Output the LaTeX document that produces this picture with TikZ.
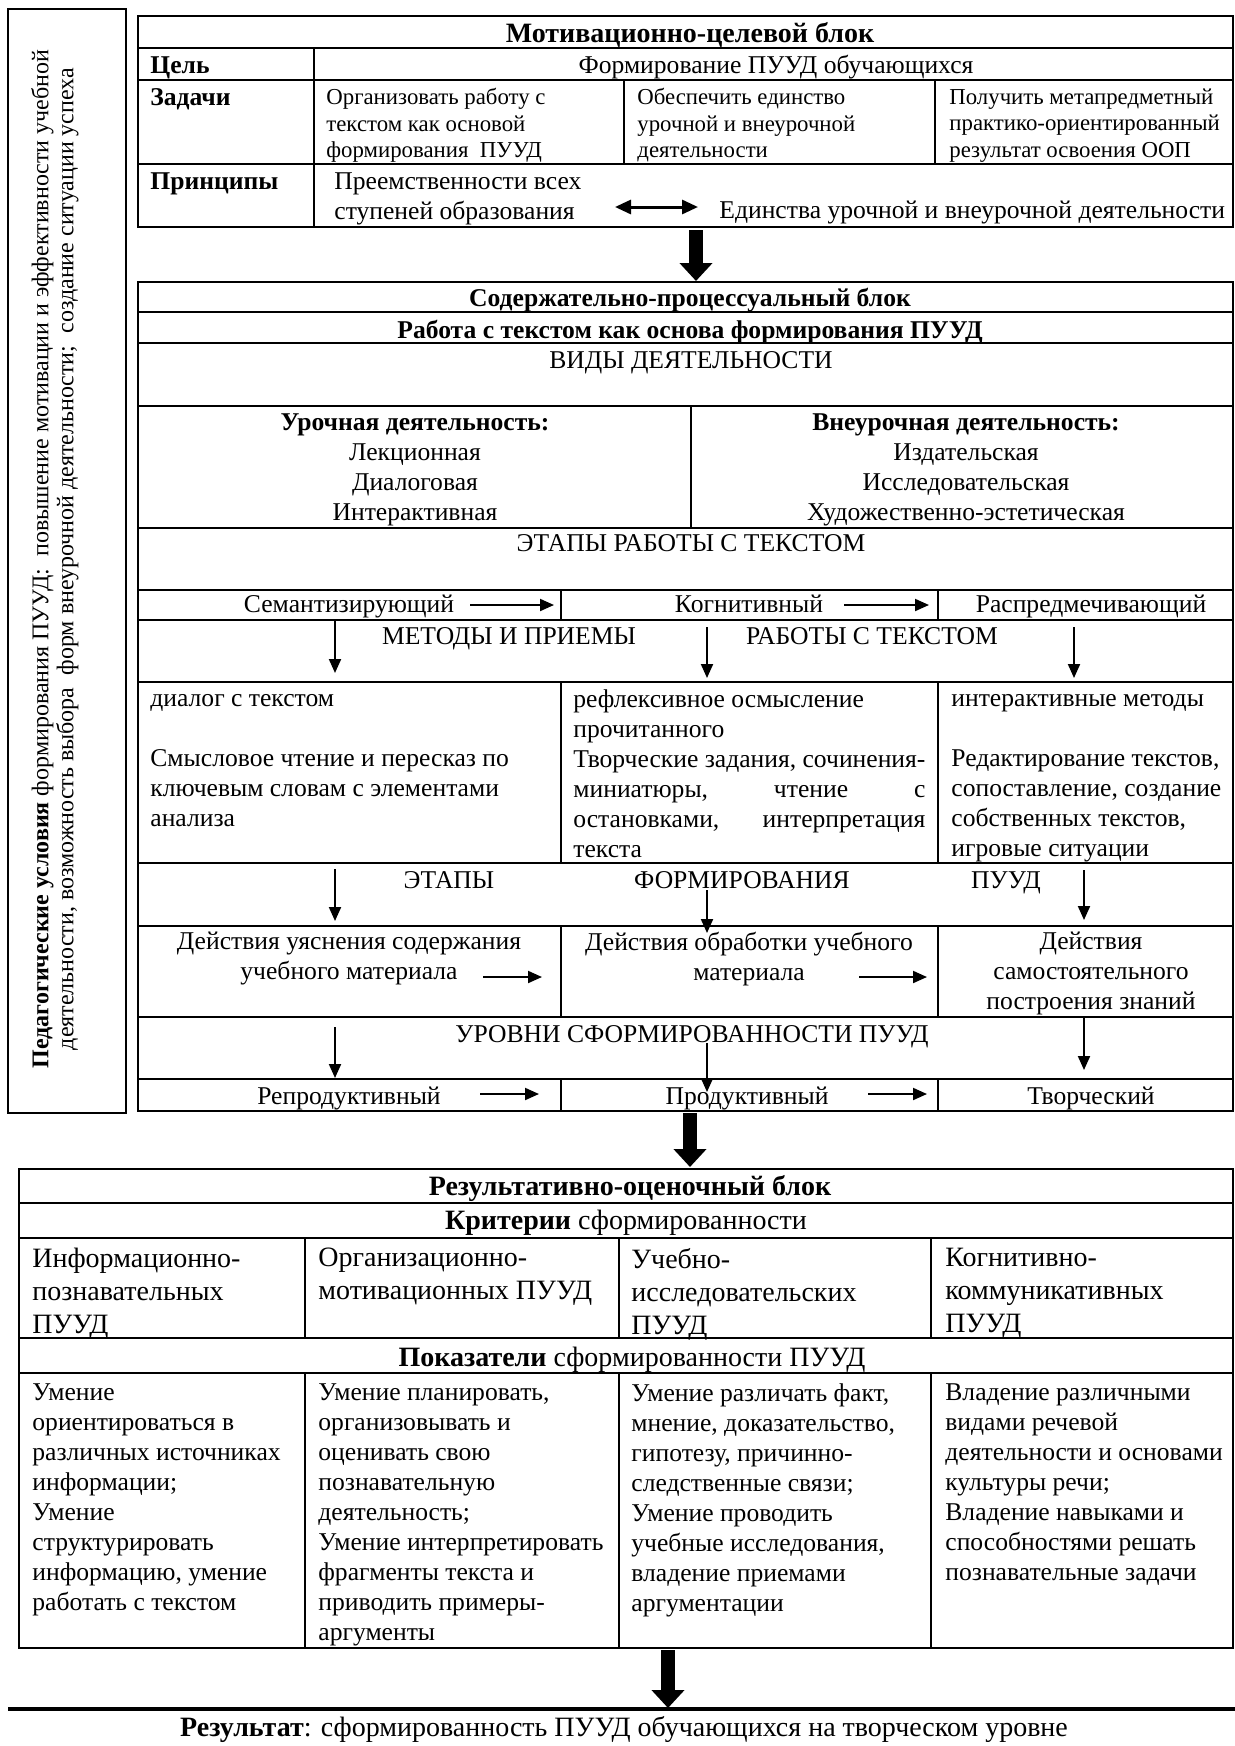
\documentclass[tikz,border=0pt]{standalone}
\usepackage{fontspec}
\setmainfont{Liberation Serif}
\usepackage{tikz}
\usetikzlibrary{arrows.meta}

\begin{document}
\begin{tikzpicture}[x=0.5pt, y=-0.5pt,
	every node/.style={inner sep=0pt, font=\fontsize{12.8}{15}\selectfont,
		execute at begin node=\strut, execute at end node=\strut},
	head/.style={font=\fontsize{12.8}{15}\selectfont\bfseries},
	title/.style={font=\fontsize{14}{16}\selectfont\bfseries},
	large/.style={font=\fontsize{14}{16}\selectfont},
	frame/.style={line width=1.2pt},
	rule/.style={line width=0.9pt},
	cell/.style={anchor=north west, align=left},
	task/.style={anchor=north west, align=left, font=\fontsize{11.4}{13.3}\selectfont},
	crit/.style={anchor=north west, align=left, font=\fontsize{14}{16.5}\selectfont},
	fat/.style={line width=7pt, -{Triangle[width=16pt, length=9pt]}},
	thin/.style={line width=1pt, -{Triangle[width=6pt, length=7pt]}}]
\useasboundingbox (0,0) rectangle (1235,1746);

\draw[frame] (8,9) rectangle (126,1113);
\node[rotate=90, align=center, font=\fontsize{12}{12.5}\selectfont] (cond) at (56,559) {\textbf{Педагогические условия} формирования ПУУД:\ \ повышение мотивации и эффективности учебной\\деятельности, возможность выбора\ \ форм внеурочной деятельности;\ \ создание ситуации успеха};

\draw[frame] (138,16) rectangle (1233,227);
\draw[rule] (138,48) -- (1233,48);
\draw[rule] (138,80) -- (1233,80);
\draw[rule] (138,164) -- (1233,164);
\draw[rule] (314,48) -- (314,227);
\draw[rule] (624,80) -- (624,164);
\draw[rule] (935,80) -- (935,164);

\node[title] (mot) at (690,36) {Мотивационно-целевой блок};
\node[head, anchor=west] (goal) at (150,67) {Цель};
\node (goaltxt) at (776,67) {Формирование ПУУД обучающихся};
\node[head, anchor=west] (tasks) at (150,99) {Задачи};
\node[task] (task1) at (326,88) {Организовать работу с\\текстом как основой\\формирования\ \ ПУУД};
\node[task] (task2) at (637,88) {Обеспечить единство\\урочной и внеурочной\\деятельности};
\node[task] (task3) at (949,88) {Получить метапредметный\\практико-ориентированный\\результат освоения ООП};
\node[head, anchor=west] (prin) at (150,183) {Принципы};
\node[cell] (prin1) at (334,172) {Преемственности всех\\ступеней образования};
\node[anchor=west] (prin2) at (719,212) {Единства урочной и внеурочной деятельности};
\coordinate (pa) at (615,207);
\coordinate (pb) at (698,207);
\draw[line width=1.5pt, {Triangle[width=7pt, length=8pt]}-{Triangle[width=7pt, length=8pt]}] (pa) -- (pb);

\coordinate (f1a) at (696,230);
\coordinate (f1b) at (696,281);
\draw[fat] (f1a) -- (f1b);

\draw[frame] (138,282) rectangle (1233,1111);
\draw[rule] (138,312) -- (1233,312);
\draw[rule] (138,343) -- (1233,343);
\draw[rule] (138,406) -- (1233,406);
\draw[rule] (138,528) -- (1233,528);
\draw[rule] (138,590) -- (1233,590);
\draw[rule] (138,620) -- (1233,620);
\draw[rule] (138,682) -- (1233,682);
\draw[rule] (138,863) -- (1233,863);
\draw[rule] (138,926) -- (1233,926);
\draw[rule] (138,1017) -- (1233,1017);
\draw[rule] (138,1079) -- (1233,1079);
\draw[rule] (691,406) -- (691,528);
\draw[rule] (561,590) -- (561,620);
\draw[rule] (938,590) -- (938,620);
\draw[rule] (561,682) -- (561,863);
\draw[rule] (938,682) -- (938,863);
\draw[rule] (561,926) -- (561,1017);
\draw[rule] (938,926) -- (938,1017);
\draw[rule] (561,1079) -- (561,1111);
\draw[rule] (938,1079) -- (938,1111);

\node[head] (cont) at (690,300) {Содержательно-процессуальный блок};
\node[head] (work) at (690,332) {Работа с текстом как основа формирования ПУУД};
\node (kinds) at (691,362) {ВИДЫ ДЕЯТЕЛЬНОСТИ};
\node[align=center] (lesson) at (415,471.5) {\textbf{Урочная деятельность:}\\Лекционная\\Диалоговая\\Интерактивная};
\node[align=center] (extra) at (966,471.5) {\textbf{Внеурочная деятельность:}\\Издательская\\Исследовательская\\Художественно-эстетическая};
\node (stages) at (691,545) {ЭТАПЫ РАБОТЫ С ТЕКСТОМ};
\node (sem) at (349,606) {Семантизирующий};
\node (cog) at (749,606) {Когнитивный};
\node (dis) at (1091,606) {Распредмечивающий};
\node (meth1) at (509,638) {МЕТОДЫ И ПРИЕМЫ};
\node (meth2) at (872,638) {РАБОТЫ С ТЕКСТОМ};
\node[cell] (dial) at (150,694) {диалог с текстом\\[15pt]Смысловое чтение и пересказ по\\ключевым словам с элементами\\анализа};
\node[cell] (refl) at (573,689) {рефлексивное осмысление\\прочитанного\\Творческие задания, сочинения-\\\hbox to 176pt{миниатюры,\hfill чтение\hfill с}\\\hbox to 176pt{остановками,\hfill интерпретация}\\текста};
\node[cell] (inter) at (951,694) {интерактивные методы\\[15pt]Редактирование текстов,\\сопоставление, создание\\собственных текстов,\\игровые ситуации};
\node (st1) at (449,882) {ЭТАПЫ};
\node (st2) at (742,882) {ФОРМИРОВАНИЯ};
\node (st3) at (1006,882) {ПУУД};
\node[align=center] (act1) at (349,960.5) {Действия уяснения содержания\\учебного материала};
\node[align=center] (act2) at (749,960.5) {Действия обработки учебного\\материала};
\node[align=center] (act3) at (1091,975.5) {Действия\\самостоятельного\\построения знаний};
\node (lev) at (692,1036) {УРОВНИ СФОРМИРОВАННОСТИ ПУУД};
\node (rep) at (349,1098) {Репродуктивный};
\node (prod) at (747,1098) {Продуктивный};
\node (cre) at (1091,1098) {Творческий};

\coordinate (h1a) at (470,605);
\coordinate (h1b) at (554,605);
\coordinate (h2a) at (844,605);
\coordinate (h2b) at (929,605);
\coordinate (d1a) at (335,621);
\coordinate (d1b) at (335,673);
\coordinate (d2a) at (707,627);
\coordinate (d2b) at (707,678);
\coordinate (d3a) at (1074,627);
\coordinate (d3b) at (1074,678);
\coordinate (e1a) at (335,869);
\coordinate (e1b) at (335,921);
\coordinate (e2a) at (707,890);
\coordinate (e2b) at (707,933);
\coordinate (e3a) at (1084,870);
\coordinate (e3b) at (1084,920);
\coordinate (h3a) at (483,977);
\coordinate (h3b) at (542,977);
\coordinate (h4a) at (859,977);
\coordinate (h4b) at (927,977);
\coordinate (u1a) at (335,1027);
\coordinate (u1b) at (335,1078);
\coordinate (u2a) at (707,1043);
\coordinate (u2b) at (707,1092);
\coordinate (u3a) at (1084,1018);
\coordinate (u3b) at (1084,1070);
\coordinate (h5a) at (480,1094);
\coordinate (h5b) at (539,1094);
\coordinate (h6a) at (868,1094);
\coordinate (h6b) at (927,1094);
\draw[thin] (h1a) -- (h1b);
\draw[thin] (h2a) -- (h2b);
\draw[thin] (d1a) -- (d1b);
\draw[thin] (d2a) -- (d2b);
\draw[thin] (d3a) -- (d3b);
\draw[thin] (e1a) -- (e1b);
\draw[thin] (e2a) -- (e2b);
\draw[thin] (e3a) -- (e3b);
\draw[thin] (h3a) -- (h3b);
\draw[thin] (h4a) -- (h4b);
\draw[thin] (u1a) -- (u1b);
\draw[thin] (u2a) -- (u2b);
\draw[thin] (u3a) -- (u3b);
\draw[thin] (h5a) -- (h5b);
\draw[thin] (h6a) -- (h6b);

\coordinate (f2a) at (690,1113);
\coordinate (f2b) at (690,1167);
\draw[fat] (f2a) -- (f2b);

\draw[frame] (19,1169) rectangle (1233,1648);
\draw[rule] (19,1203) -- (1233,1203);
\draw[rule] (19,1238) -- (1233,1238);
\draw[rule] (19,1338) -- (1233,1338);
\draw[rule] (19,1373) -- (1233,1373);
\draw[rule] (305,1238) -- (305,1338);
\draw[rule] (619,1238) -- (619,1338);
\draw[rule] (931,1238) -- (931,1338);
\draw[rule] (305,1373) -- (305,1648);
\draw[rule] (619,1373) -- (619,1648);
\draw[rule] (931,1373) -- (931,1648);

\node[title] (res) at (630,1189) {Результативно-оценочный блок};
\node[large] (critrow) at (626,1223) {\textbf{Критерии} сформированности};
\node[crit] (c1) at (32,1248) {Информационно-\\познавательных\\ПУУД};
\node[crit] (c2) at (318,1248) {Организационно-\\мотивационных ПУУД};
\node[crit] (c3) at (631,1248) {Учебно-\\исследовательских\\ПУУД};
\node[crit] (c4) at (945,1248) {Когнитивно-\\коммуникативных\\ПУУД};
\node[large] (ind) at (632,1360) {\textbf{Показатели} сформированности ПУУД};
\node[cell] (i1) at (32,1383) {Умение\\ориентироваться в\\различных источниках\\информации;\\Умение\\структурировать\\информацию, умение\\работать с текстом};
\node[cell] (i2) at (318,1383) {Умение планировать,\\организовывать и\\оценивать свою\\познавательную\\деятельность;\\Умение интерпретировать\\фрагменты текста и\\приводить примеры-\\аргументы};
\node[cell] (i3) at (631,1383) {Умение различать факт,\\мнение, доказательство,\\гипотезу, причинно-\\следственные связи;\\Умение проводить\\учебные исследования,\\владение приемами\\аргументации};
\node[cell] (i4) at (945,1383) {Владение различными\\видами речевой\\деятельности и основами\\культуры речи;\\Владение навыками и\\способностями решать\\познавательные задачи};

\coordinate (f3a) at (668,1650);
\coordinate (f3b) at (668,1708);
\draw[fat] (f3a) -- (f3b);
\draw[line width=1.6pt] (8,1709) -- (1235,1709);
\node[font=\fontsize{14}{16}\selectfont] (result) at (624,1730) {\textbf{Результат}: сформированность ПУУД обучающихся на творческом уровне};
\end{tikzpicture}
\end{document}
